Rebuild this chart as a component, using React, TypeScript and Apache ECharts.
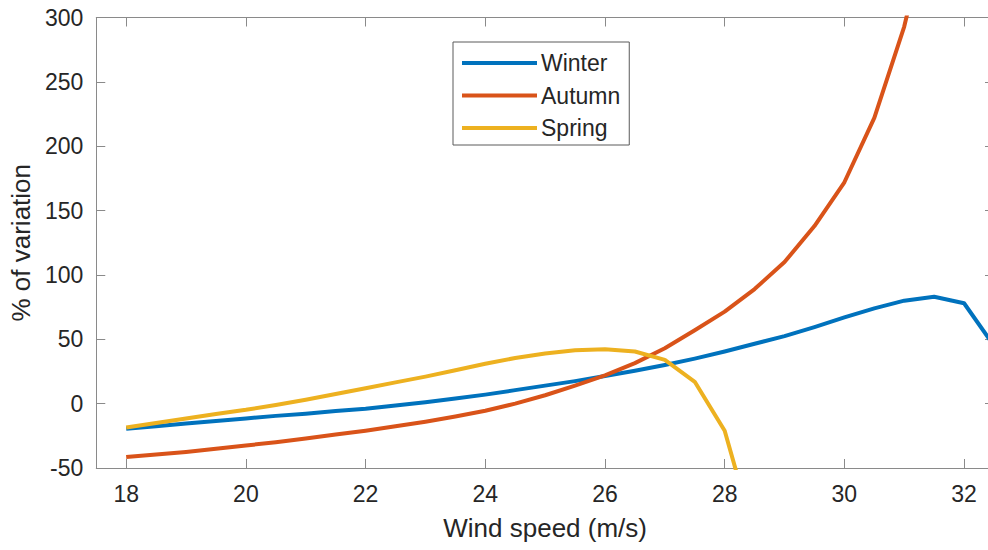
import React, { useEffect, useRef } from "react";
import * as echarts from "echarts";

// Wind speed samples (m/s)
const windSpeed = [
  18, 18.5, 19, 19.5, 20, 20.5, 21, 21.5, 22, 22.5, 23, 23.5, 24, 24.5, 25,
  25.5, 26, 26.5, 27, 27.5, 28, 28.5, 29, 29.5, 30, 30.5, 31, 31.5, 32, 32.5,
];

// % of variation per season
const winter = [
  -19.5, -17.5, -15.5, -13.5, -11.5, -9.5, -7.8, -5.8, -4, -1.5, 1, 4, 7, 10.5,
  14, 17.5, 21.5, 25.5, 30, 35, 40.5, 46.5, 52.5, 59.5, 67, 74, 80, 83, 78, 45,
];
const autumn = [
  -41.5, -39.5, -37.5, -35, -32.5, -30, -27, -24, -21, -17.5, -14, -10, -5.5,
  0, 6.5, 14, 22, 31.5, 43, 57, 71.5, 89, 110, 138, 172, 222, 293, 390, 520,
  700,
];
const spring = [
  -18.5, -15, -11.5, -8, -4.8, -1, 3, 7.5, 12, 16.5, 21, 26, 31, 35.5, 39,
  41.5, 42.3, 40.5, 34, 17, -21, -103,
];

const xTicks = [18, 20, 22, 24, 26, 28, 30, 32];

const seriesNames = ["Winter", "Autumn", "Spring"];
const seriesColors = ["#0072BD", "#D95319", "#EDB120"];
const seriesValues = [winter, autumn, spring];

const FONT = "'Liberation Sans', Arial, Helvetica, sans-serif";
const AXIS_COLOR = "#8a8a8a";
const TEXT_COLOR = "#262626";

export default function App() {
  const ref = useRef<HTMLDivElement>(null);

  useEffect(() => {
    if (!ref.current) return;
    const chart = echarts.init(ref.current, undefined, { renderer: "svg" });

    const baseX = {
      type: "value" as const,
      min: 17.5,
      max: 32.5,
      axisLine: { show: true, onZero: false, lineStyle: { color: AXIS_COLOR, width: 1 } },
      axisTick: {
        show: true,
        inside: true,
        length: 9,
        customValues: xTicks,
        lineStyle: { color: AXIS_COLOR },
      },
      splitLine: { show: false },
    };
    const baseY = {
      type: "value" as const,
      min: -50,
      max: 300,
      interval: 50,
      axisLine: { show: true, onZero: false, lineStyle: { color: AXIS_COLOR, width: 1 } },
      axisTick: { show: true, inside: true, length: 9, lineStyle: { color: AXIS_COLOR } },
      splitLine: { show: false },
    };

    chart.setOption({
      animation: false,
      backgroundColor: "#ffffff",
      textStyle: { fontFamily: FONT },
      grid: { left: 96, top: 17.5, right: 16, bottom: 82, containLabel: false },
      legend: {
        orient: "vertical",
        left: 453,
        top: 42,
        data: seriesNames,
        icon: "rect",
        itemWidth: 75,
        itemHeight: 4,
        itemGap: 6.5,
        padding: [8, 9, 4, 9],
        borderColor: "#5a5a5a",
        borderWidth: 1,
        backgroundColor: "#ffffff",
        textStyle: {
          fontFamily: FONT,
          fontSize: 23,
          color: TEXT_COLOR,
          lineHeight: 26,
          padding: [0, 0, 0, -1],
        },
      },
      xAxis: [
        {
          ...baseX,
          position: "bottom",
          name: "Wind speed (m/s)",
          nameLocation: "middle",
          nameGap: 47,
          nameTextStyle: { fontFamily: FONT, fontSize: 26, color: TEXT_COLOR },
          axisLabel: {
            show: true,
            customValues: xTicks,
            margin: 14,
            fontFamily: FONT,
            fontSize: 23,
            color: TEXT_COLOR,
          },
        },
        {
          ...baseX,
          position: "top",
          axisLabel: { show: false },
        },
      ],
      yAxis: [
        {
          ...baseY,
          position: "left",
          name: "% of variation",
          nameLocation: "middle",
          nameGap: 61,
          nameTextStyle: { fontFamily: FONT, fontSize: 26, color: TEXT_COLOR },
          axisLabel: {
            show: true,
            margin: 13,
            fontFamily: FONT,
            fontSize: 23,
            color: TEXT_COLOR,
          },
        },
        {
          ...baseY,
          position: "right",
          axisLabel: { show: false },
        },
      ],
      series: seriesNames.map((name, i) => ({
        name,
        type: "line",
        xAxisIndex: 0,
        yAxisIndex: 0,
        data: seriesValues[i].map((v, j) => [windSpeed[j], v]),
        symbol: "none",
        smooth: false,
        clip: true,
        color: seriesColors[i],
        lineStyle: { color: seriesColors[i], width: 4, join: "round" },
        emphasis: { disabled: true },
      })),
    });

    return () => chart.dispose();
  }, []);

  return (
    <div
      style={{
        position: "fixed",
        left: 0,
        top: 0,
        width: 988,
        height: 550,
        overflow: "hidden",
        background: "#ffffff",
      }}
    >
      <div ref={ref} style={{ width: 1010, height: 550 }} />
    </div>
  );
}
